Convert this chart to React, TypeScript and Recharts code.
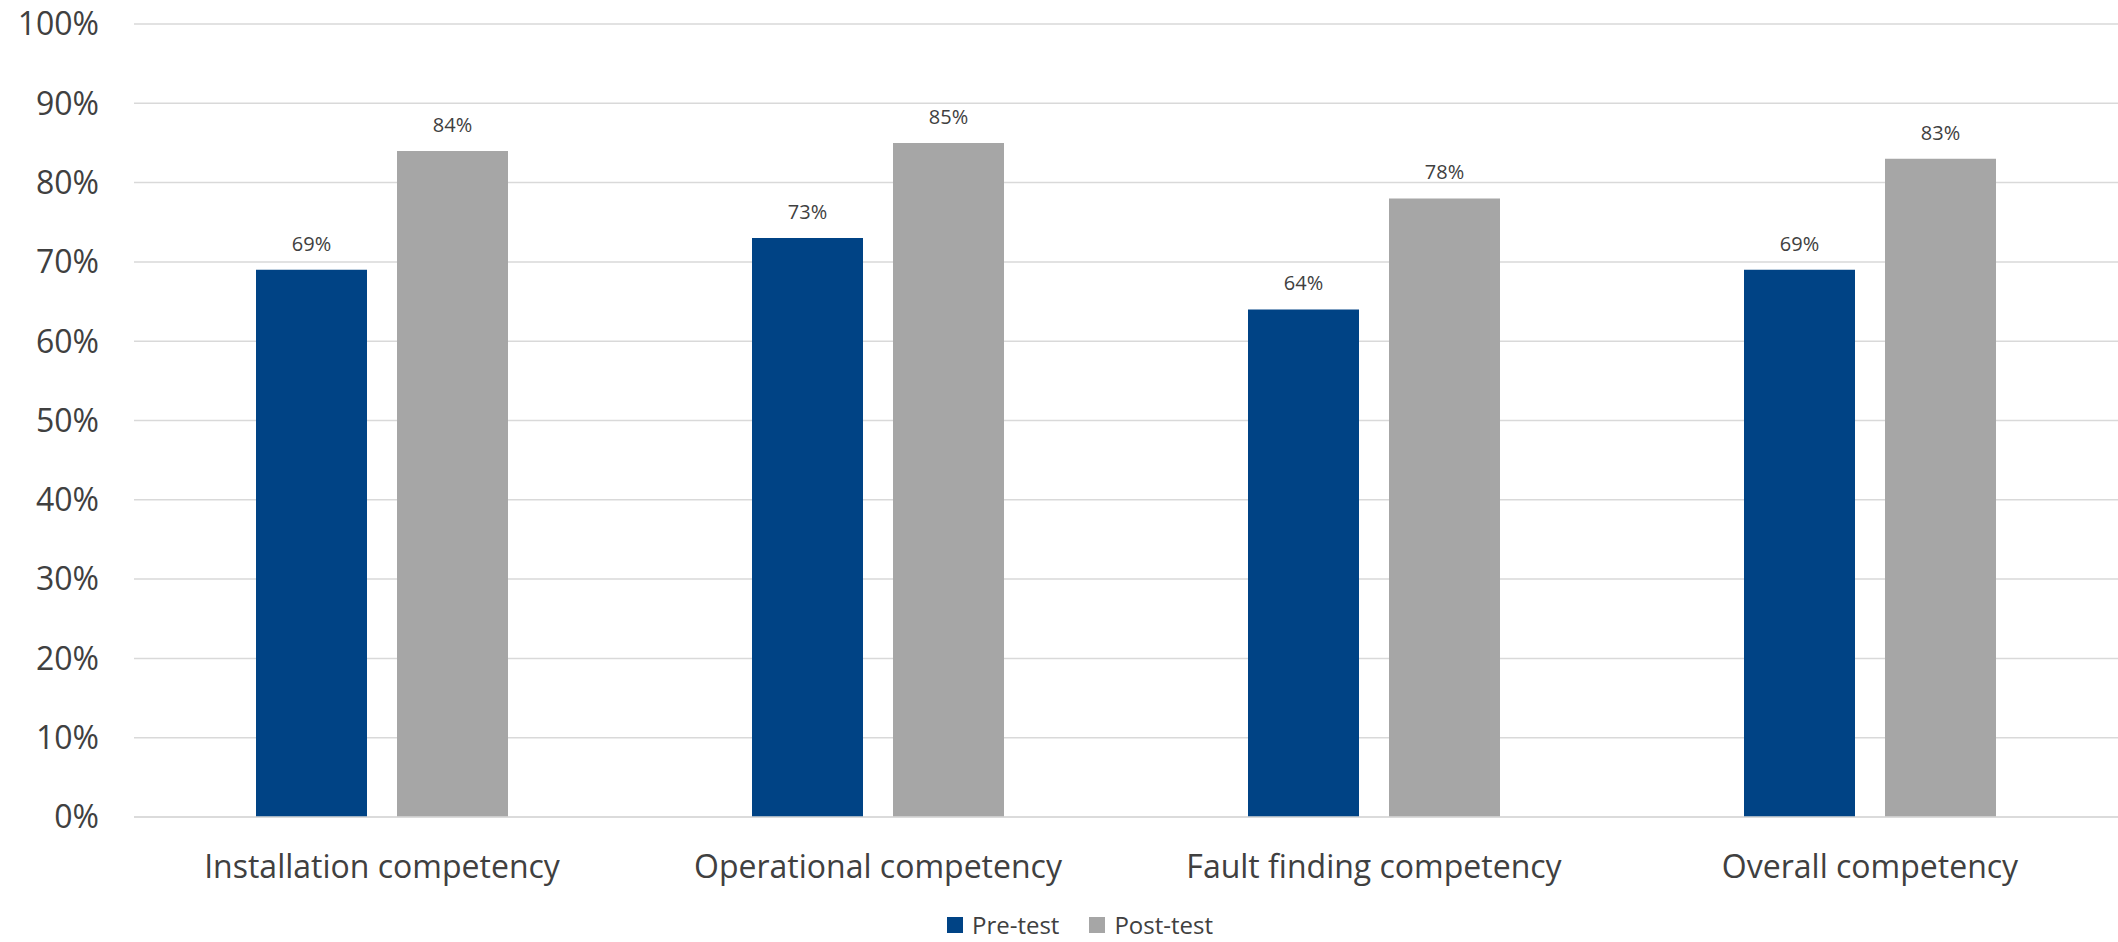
import React from "react";
import { BarChart, Bar, XAxis, YAxis, CartesianGrid, Legend, LabelList } from "recharts";

const categories = ["Installation competency", "Operational competency", "Fault finding competency", "Overall competency"];
const preTest = [0.69, 0.73, 0.64, 0.69];
const postTest = [0.84, 0.85, 0.78, 0.83];
const yTicks = [0, 0.1, 0.2, 0.3, 0.4, 0.5, 0.6, 0.7, 0.8, 0.9, 1.0];

const data = categories.map((c, i) => ({ name: c, pre: preTest[i], post: postTest[i] }));

const FONT = "'Open Sans', sans-serif";
const TEXT = "#404040";
const PRE = "#004385";
const POST = "#a6a6a6";

const pct = (v: any) => `${Math.round(Number(v) * 100)}%`;

const LegendContent = () => (
  <div style={{ display: "flex", justifyContent: "center", alignItems: "center", height: 20, paddingLeft: 42, fontFamily: FONT, fontSize: 24, color: TEXT, lineHeight: "20px" }}>
    <span style={{ display: "inline-flex", alignItems: "center", marginRight: 30 }}>
      <span style={{ width: 16, height: 16, background: PRE, display: "inline-block", marginRight: 9 }} />
      Pre-test
    </span>
    <span style={{ display: "inline-flex", alignItems: "center" }}>
      <span style={{ width: 16, height: 16, background: POST, display: "inline-block", marginRight: 9 }} />
      Post-test
    </span>
  </div>
);

export default function App() {
  return (
    <div style={{ position: "absolute", left: 0, top: 0, background: "#fff" }}>
      <BarChart width={2118} height={942} data={data} margin={{ top: 24, right: 0, left: 0, bottom: 7 }} barGap={30}>
        <CartesianGrid vertical={false} stroke="#d9d9d9" strokeWidth={1.5} />
        <XAxis
          dataKey="name"
          height={98}
          tickLine={false}
          axisLine={{ stroke: "#d9d9d9", strokeWidth: 1.5 }}
          tickMargin={32}
          tick={{ fill: TEXT, fontSize: 32, fontFamily: FONT }}
          interval={0}
        />
        <YAxis
          width={134}
          domain={[0, 1]}
          ticks={yTicks}
          tickFormatter={pct}
          axisLine={false}
          tickLine={false}
          tickMargin={29}
          tick={{ fill: TEXT, fontSize: 32, fontFamily: FONT }}
        />
        <Legend verticalAlign="bottom" height={20} content={<LegendContent />} />
        <Bar dataKey="pre" name="Pre-test" fill={PRE} barSize={111} isAnimationActive={false}>
          <LabelList dataKey="pre" position="top" offset={19} formatter={pct} style={{ fill: TEXT, fontSize: 20, fontFamily: FONT }} />
        </Bar>
        <Bar dataKey="post" name="Post-test" fill={POST} barSize={111} isAnimationActive={false}>
          <LabelList dataKey="post" position="top" offset={19} formatter={pct} style={{ fill: TEXT, fontSize: 20, fontFamily: FONT }} />
        </Bar>
      </BarChart>
    </div>
  );
}
